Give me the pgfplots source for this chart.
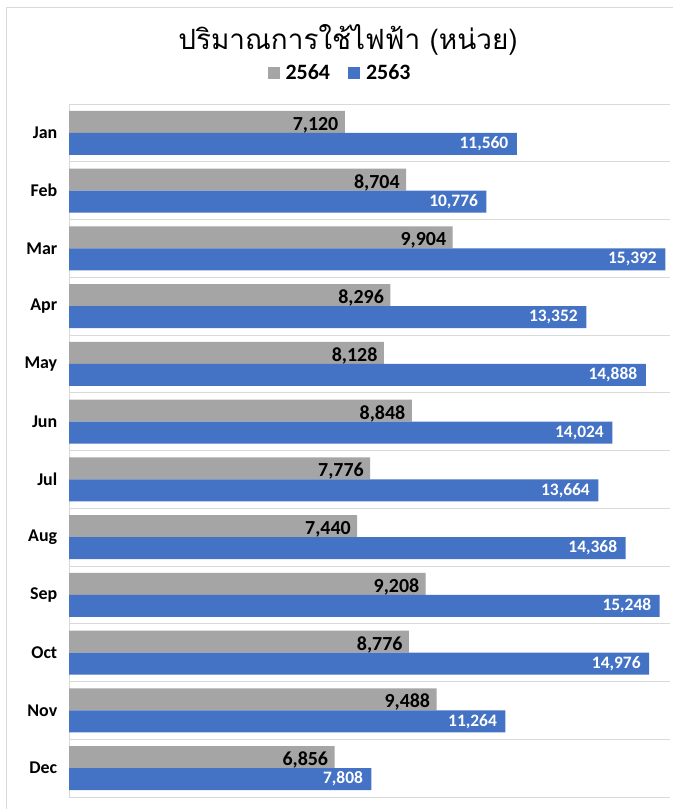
\documentclass[border=0pt]{standalone}
\usepackage{pgfplots}
\pgfplotsset{compat=1.18}
\usepackage{fontspec}
\setmainfont{Carlito}
\newfontfamily\thaifont[Script=Thai]{Loma}
\definecolor{gray64}{HTML}{A5A5A5}
\definecolor{blue63}{HTML}{4472C4}
\definecolor{gridc}{HTML}{D9D9D9}
\begin{document}
\begin{tikzpicture}
  \useasboundingbox (0,0) rectangle (673bp,809bp);
  \fill[white] (0,0) rectangle (673bp,809bp);
  \draw[gridc, line width=0.8bp] (6bp,0) -- (6bp,802bp) -- (673bp,802bp);
  \node[inner sep=0pt, font=\thaifont\fontsize{28}{30}\selectfont] at (348bp,769bp) {ปริมาณการใช้ไฟฟ้า (หน่วย)};
  \begin{axis}[
      at={(69bp,12bp)}, anchor=south west,
      scale only axis,
      width=601bp, height=693bp,
      xbar, bar width=22bp,
      xmin=0, xmax=15514,
      ymin=-0.5, ymax=11.5,
      y dir=reverse,
      axis x line=none,
      axis y line*=left,
      y axis line style={gridc, line width=0.8bp},
      ytick={0,...,11},
      yticklabels={Jan,Feb,Mar,Apr,May,Jun,Jul,Aug,Sep,Oct,Nov,Dec},
      major y tick style={draw=none},
      yticklabel style={font=\bfseries\fontsize{18}{20}\selectfont, xshift=-4bp},
      extra y ticks={-0.5,0.5,...,11.5},
      extra y tick labels={},
      extra y tick style={grid=major, major tick length=11bp, tick style={gridc, line width=0.8bp}},
      grid style={gridc, line width=0.8bp},
      clip=false,
      legend style={at={(0.451,1.045)}, anchor=center, draw=none,
        legend columns=2, font=\bfseries\fontsize{22}{24}\selectfont,
        nodes={inner ysep=0bp},
        /tikz/every even column/.append style={column sep=16bp}},
      legend image code/.code={\fill[#1] (0bp,-6bp) rectangle (12bp,6bp); \path (16bp,0bp);},
      nodes near coords,
      /pgf/number format/.cd, fixed, precision=0, 1000 sep={,}, assume math mode=true,
    ]
    \addplot[fill=gray64, draw=none, bar shift=11bp,
      nodes near coords style={anchor=east, xshift=-3bp, yshift=-3bp, text=black,
        font=\bfseries\fontsize{20}{22}\selectfont}]
      coordinates {(7120,0) (8704,1) (9904,2) (8296,3) (8128,4) (8848,5)
                   (7776,6) (7440,7) (9208,8) (8776,9) (9488,10) (6856,11)};
    \addplot[fill=blue63, draw=none, bar shift=-11bp,
      nodes near coords style={anchor=east, xshift=-5bp, text=white,
        font=\bfseries\fontsize{17.5}{19}\selectfont}]
      coordinates {(11560,0) (10776,1) (15392,2) (13352,3) (14888,4) (14024,5)
                   (13664,6) (14368,7) (15248,8) (14976,9) (11264,10) (7808,11)};
    \legend{2564,2563}
  \end{axis}
\end{tikzpicture}
\end{document}
